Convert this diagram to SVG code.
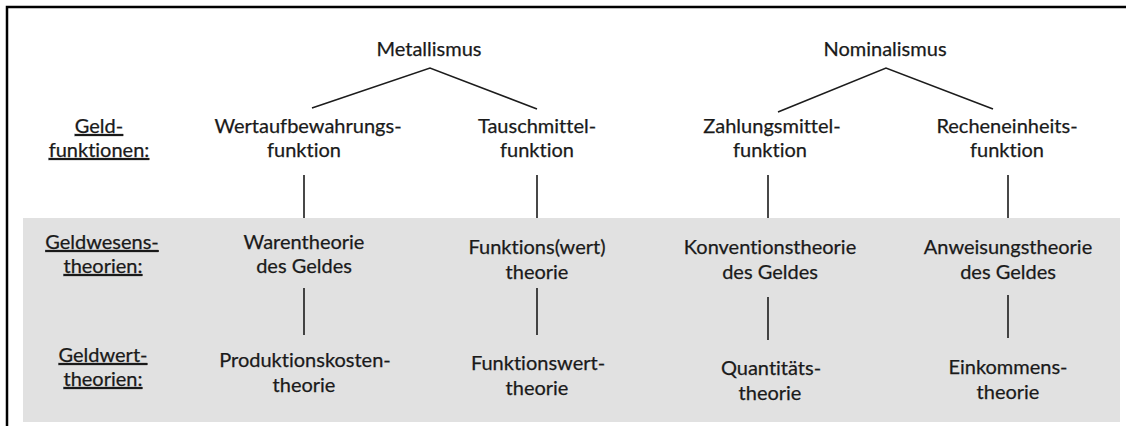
<svg xmlns="http://www.w3.org/2000/svg" width="1126" height="426" viewBox="0 0 1126 426">
<style>
text{font-family:Lato,"Open Sans","Liberation Sans",sans-serif;font-size:20px;fill:#1a1a1a;text-anchor:middle;font-variant-ligatures:none;stroke:#1a1a1a;stroke-width:0.25}
.lab{text-decoration:underline}
.c{stroke:#1c1c1c;stroke-width:1.6;fill:none}
</style>
<rect x="0" y="0" width="1126" height="426" fill="#fff"/>
<rect x="23" y="218" width="1097" height="204" fill="#e1e1e1"/>
<path d="M7 426V7H1126" fill="none" stroke="#000" stroke-width="2.5"/>
<g id="labels">
<text class="lab" x="99" y="133">Geld-</text>
<text class="lab" x="99" y="157">funktionen:</text>
<text class="lab" x="102" y="249">Geldwesens-</text>
<text class="lab" x="103" y="273">theorien:</text>
<text class="lab" x="103" y="362">Geldwert-</text>
<text class="lab" x="103" y="386">theorien:</text>
</g>
<g id="metallismus"><text x="429" y="56">Metallismus</text></g>
<g id="nominalismus"><text x="885" y="56">Nominalismus</text></g>
<g id="wertaufbewahrung"><text x="308" y="133">Wertaufbewahrungs-</text><text x="304" y="157">funktion</text></g>
<g id="tauschmittel"><text x="537" y="133">Tauschmittel-</text><text x="537" y="157">funktion</text></g>
<g id="zahlungsmittel"><text x="772" y="133">Zahlungsmittel-</text><text x="770" y="157">funktion</text></g>
<g id="recheneinheit"><text x="1007" y="133">Recheneinheits-</text><text x="1007" y="157">funktion</text></g>
<g id="warentheorie"><text x="304" y="249">Warentheorie</text><text x="304" y="273">des Geldes</text></g>
<g id="funktionswert"><text x="537" y="254">Funktions(wert)</text><text x="537" y="279">theorie</text></g>
<g id="konvention"><text x="770" y="254">Konventionstheorie</text><text x="770" y="279">des Geldes</text></g>
<g id="anweisung"><text x="1008" y="254">Anweisungstheorie</text><text x="1008" y="279">des Geldes</text></g>
<g id="produktionskosten"><text x="305" y="367">Produktionskosten-</text><text x="304" y="392">theorie</text></g>
<g id="funktionswerttheorie"><text x="538" y="370">Funktionswert-</text><text x="537" y="395">theorie</text></g>
<g id="quantitaet"><text x="771" y="375">Quantitäts-</text><text x="770" y="400">theorie</text></g>
<g id="einkommen"><text x="1008" y="374">Einkommens-</text><text x="1008" y="399">theorie</text></g>
<g id="connectors" class="c">
<path d="M312 108L430 68L537 109"/>
<path d="M778 112L886 68L993 109"/>
<path d="M304 175V218M304 288V335"/>
<path d="M537 175V218M537 288V335"/>
<path d="M768 175V218M768 297V340"/>
<path d="M1008 175V218M1008 295V338"/>
</g>
</svg>
